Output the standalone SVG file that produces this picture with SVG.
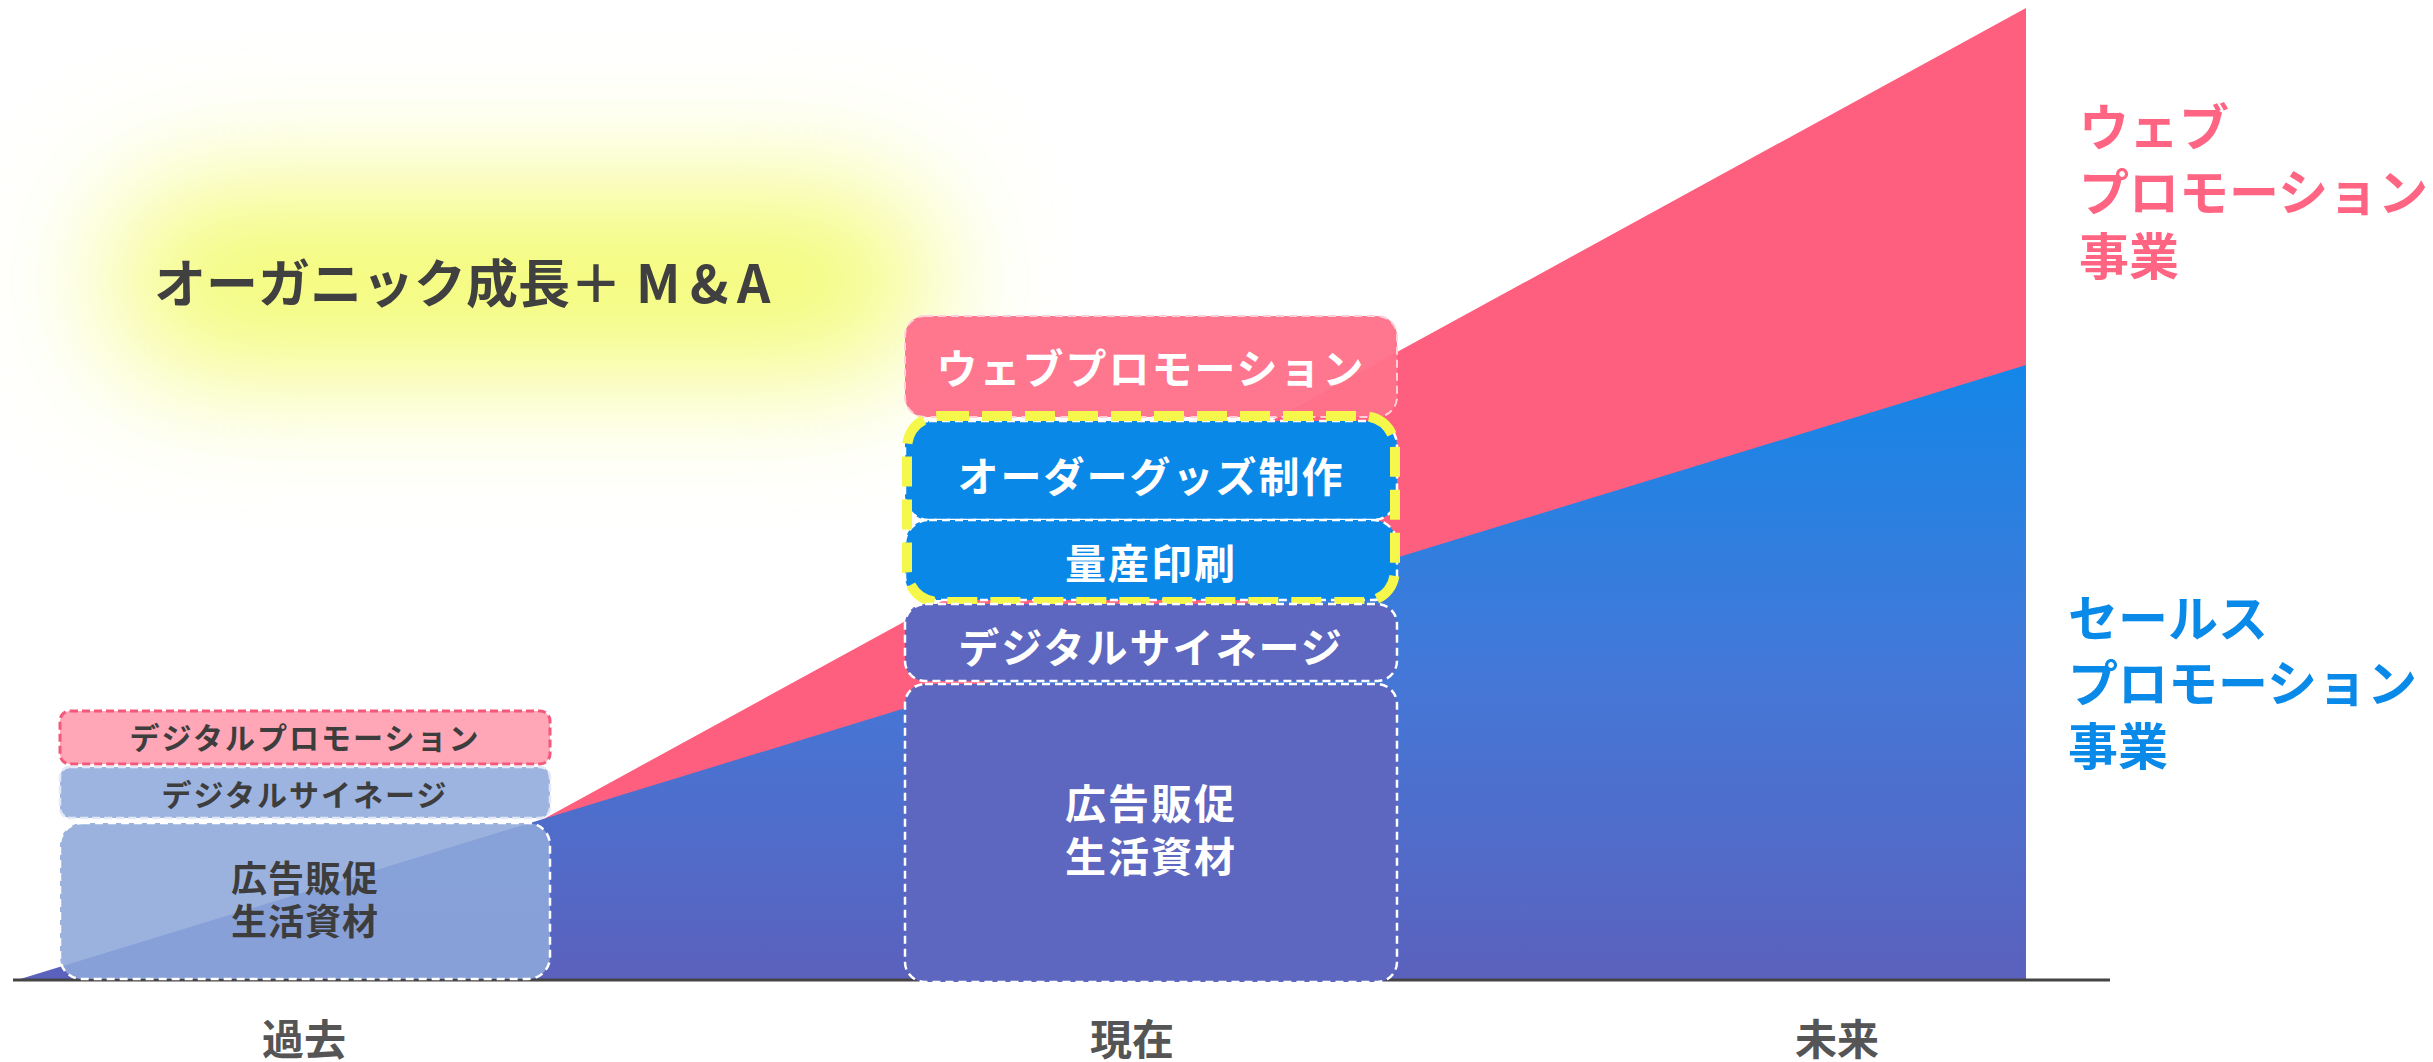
<svg xmlns="http://www.w3.org/2000/svg" width="2433" height="1062" viewBox="0 0 2433 1062">
<defs>
<linearGradient id="blueGrad" x1="0" y1="365" x2="0" y2="980" gradientUnits="userSpaceOnUse">
<stop offset="0" stop-color="#1487e8"/>
<stop offset="0.5" stop-color="#4478d8"/>
<stop offset="1" stop-color="#5b61bd"/>
</linearGradient>
<filter id="glowBlur" x="-50%" y="-100%" width="200%" height="300%">
<feGaussianBlur stdDeviation="65"/>
</filter>
<style>
.t{font-family:"Noto Sans CJK JP","Noto Sans",sans-serif;font-weight:bold;dominant-baseline:central;text-anchor:middle}
.dark{fill:#3d3d3d}
.white{fill:#ffffff}
.axisLbl{fill:#555555;font-size:42px}
.lbox{font-size:30px;letter-spacing:2px}
.mbox{font-size:41px;letter-spacing:2px}
.dashW{stroke:#ffffff;stroke-width:2.5;stroke-dasharray:8 5}
.side{font-family:"Noto Sans CJK JP","Noto Sans",sans-serif;font-weight:bold;font-size:50px;dominant-baseline:central}
</style>
</defs>
<rect width="2433" height="1062" fill="#ffffff"/>

<g id="glow">
<rect x="110" y="190" width="820" height="180" rx="90" fill="#f3fb70" filter="url(#glowBlur)"/>
</g>

<g id="areas">
<polygon points="540,821 2026,8 2026,980 540,980" fill="#ff5f7e"/>
<polygon points="17,980 2026,365 2026,980" fill="url(#blueGrad)"/>
</g>

<g id="axis">
<line x1="13" y1="980" x2="2110" y2="980" stroke="#444444" stroke-width="3"/>
</g>

<g id="past-digital-promotion">
<rect x="60" y="711" width="490" height="53" rx="10" fill="#ffa6b7" stroke="#f4587a" stroke-width="3" stroke-dasharray="8 4"/>
<text class="t dark lbox" x="305" y="736">デジタルプロモーション</text>
</g>
<g id="past-signage">
<rect x="60" y="767" width="490" height="51" rx="10" fill="#8ea8db" fill-opacity="0.86" stroke="#e3e9f6" stroke-width="2.5" stroke-dasharray="8 4"/>
<text class="t dark lbox" x="305" y="793">デジタルサイネージ</text>
</g>
<g id="past-ad">
<rect x="60" y="823" width="490" height="156" rx="22" fill="#8ea8db" fill-opacity="0.885" class="dashW"/>
<text class="t dark" x="305" y="876" font-size="36" letter-spacing="1">広告販促</text>
<text class="t dark" x="305" y="919" font-size="36" letter-spacing="1">生活資材</text>
</g>

<g id="now-web">
<rect x="905" y="316" width="492" height="101" rx="20" fill="#ff7189" fill-opacity="0.96" stroke="#ffd0da" stroke-width="2" stroke-dasharray="8 5"/>
<text class="t white mbox" x="1151" y="366">ウェブプロモーション</text>
</g>
<g id="now-order">
<rect x="905" y="421" width="492" height="99" rx="24" fill="#0a88e8" class="dashW"/>
<text class="t white mbox" x="1151" y="474">オーダーグッズ制作</text>
</g>
<g id="now-mass">
<rect x="905" y="520" width="492" height="80" rx="24" fill="#0a88e8" class="dashW"/>
<text class="t white mbox" x="1151" y="561">量産印刷</text>
</g>
<g id="now-highlight">
<rect x="907" y="416" width="488" height="186" rx="32" fill="none" stroke="#f5f84a" stroke-width="10" stroke-dasharray="30 13"/>
</g>
<g id="now-signage">
<rect x="905" y="604" width="492" height="77" rx="20" fill="#5d67c0" class="dashW"/>
<text class="t white mbox" x="1151" y="645">デジタルサイネージ</text>
</g>
<g id="now-ad">
<rect x="905" y="684" width="492" height="298" rx="20" fill="#5d67c0" class="dashW"/>
<text class="t white mbox" x="1151" y="801">広告販促</text>
<text class="t white mbox" x="1151" y="854">生活資材</text>
</g>

<g id="title">
<text font-family="'Noto Sans CJK JP','Noto Sans',sans-serif" font-weight="bold" font-size="52" fill="#404040" dominant-baseline="central" x="154" y="280">オーガニック成長＋<tspan x="636">M</tspan><tspan x="690">&amp;</tspan><tspan x="737">A</tspan></text>
</g>

<g id="web-label">
<text class="side" fill="#ff6482" x="2079" y="124">ウェブ</text>
<text class="side" fill="#ff6482" x="2079" y="189">プロモーション</text>
<text class="side" fill="#ff6482" x="2079" y="253">事業</text>
</g>
<g id="sales-label">
<text class="side" fill="#0a8ae8" x="2068" y="615">セールス</text>
<text class="side" fill="#0a8ae8" x="2068" y="680">プロモーション</text>
<text class="side" fill="#0a8ae8" x="2068" y="743">事業</text>
</g>

<g id="axis-labels">
<text class="t axisLbl" x="304" y="1036">過去</text>
<text class="t axisLbl" x="1132" y="1036">現在</text>
<text class="t axisLbl" x="1837" y="1036">未来</text>
</g>
</svg>
